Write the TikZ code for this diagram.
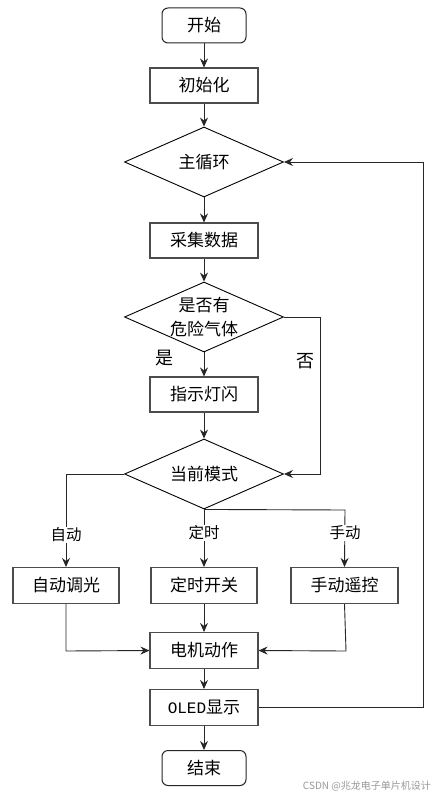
\documentclass[tikz,border=0pt]{standalone}
\usepackage{fontspec}
\newfontfamily\cjk{Noto Sans CJK SC}
\newfontfamily\monofont{Liberation Mono}
\usetikzlibrary{shapes.geometric,arrows.meta}
\begin{document}
\begin{tikzpicture}[x=1pt,y=-1pt,
  box/.style={draw=black!70,line width=1.1pt,minimum width=108pt,minimum height=35pt,inner sep=0pt,font=\cjk\fontsize{17}{20}\selectfont},
  term/.style={draw=black!85,line width=1pt,rounded corners=6pt,minimum width=84pt,minimum height=35pt,inner sep=0pt,font=\cjk\fontsize{17}{20}\selectfont},
  dia/.style={draw=black,line width=0.9pt,diamond,minimum width=159pt,minimum height=70pt,inner sep=0pt},
  dtext/.style={font=\cjk\fontsize{17}{24}\selectfont,align=center,inner sep=0pt},
  lab/.style={font=\cjk\fontsize{15.5}{18}\selectfont,inner sep=0pt},
  conn/.style={draw=black!85,line width=0.9pt},
  arr/.style={conn,-{Stealth[length=9pt,width=8pt,inset=3pt]}}
]
\useasboundingbox (0,0) rectangle (435,797);
\fill[white] (0,0) rectangle (435,797);

\node[term] (start) at (204,25.5) {开始};
\node[box] (init) at (204,85.5) {初始化};
\node[dia] (loop) at (204,162) {};
\node[dtext] at (loop) {主循环};
\node[box] (collect) at (204,240.5) {采集数据};
\node[dia] (gas) at (204,317) {};
\node[dtext] at (gas) {是否有\\危险气体};
\node[box] (led) at (204,394.5) {指示灯闪};
\node[dia] (mode) at (204,474) {};
\node[dtext] at (mode) {当前模式};
\node[box,minimum width=106pt,minimum height=36pt] (auto) at (66,585.5) {自动调光};
\node[box,minimum width=106pt,minimum height=36pt] (timer) at (204,585.5) {定时开关};
\node[box,minimum width=107pt,minimum height=36pt] (manual) at (344.5,585.5) {手动遥控};
\node[box,minimum height=36pt] (motor) at (204,650.5) {电机动作};
\node[box,minimum height=36pt] (oled) at (204,707.5) {{\monofont\fontsize{16}{20}\selectfont OLED}显示};
\node[term] (end) at (204,768) {结束};

\coordinate (noR) at (320,317);
\coordinate (noB) at (320,474);
\coordinate (aL) at (66,474);
\coordinate (mR) at (345,510);
\coordinate (autoD) at (66,651);
\coordinate (manD) at (346,651);
\coordinate (oR) at (423,707.5);
\coordinate (oT) at (423,162);

\draw[arr] (start) -- (init);
\draw[arr] (init) -- (loop);
\draw[arr] (loop) -- (collect);
\draw[arr] (collect) -- (gas);
\draw[arr] (gas) -- (led);
\draw[arr] (led) -- (mode);
\draw[arr] (gas.east) -- (noR) -- (noB) -- (mode.east);
\draw[arr] (mode.west) -- (aL) -- (auto.north);
\draw[arr] (mode.south) -- (timer.north);
\draw[arr] (mode.south) -- (mR) -- (manual.north);
\draw[arr] (auto.south) -- (autoD) -- (motor.west);
\draw[arr] (timer) -- (motor);
\draw[arr] (manual.south) -- (manD) -- (motor.east);
\draw[arr] (motor) -- (oled);
\draw[arr] (oled) -- (end);
\draw[arr] (oled.east) -- (oR) -- (oT) -- (loop.east);

\node[lab,font=\cjk\fontsize{18}{20}\selectfont,fill=white] (yes) at (164,358) {是};
\node[lab,font=\cjk\fontsize{18}{20}\selectfont,fill=white] (no) at (305,361) {否};
\node[lab,fill=white,inner sep=1pt] (l1) at (66,535) {自动};
\node[lab,fill=white,inner sep=1pt] (l2) at (204,533) {定时};
\node[lab,fill=white,inner sep=1pt] (l3) at (345,533) {手动};

\node[font=\cjk\fontsize{10}{11}\selectfont,text=black!40,anchor=east,inner sep=0pt] (wm) at (431,786) {CSDN @兆龙电子单片机设计};
\end{tikzpicture}
\end{document}
